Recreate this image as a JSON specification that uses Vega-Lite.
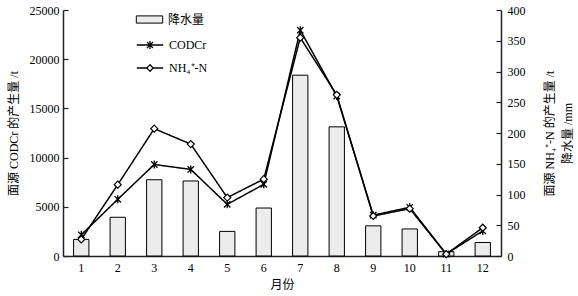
{
  "$schema": "https://vega.github.io/schema/vega-lite/v6.json",
  "width": 438,
  "height": 246,
  "autosize": {"type": "none"},
  "padding": {"left": 63, "top": 10, "right": 77, "bottom": 40},
  "background": "white",
  "config": {
    "view": {"stroke": null},
    "font": "Liberation Serif, Noto Sans CJK SC",
    "axis": {
      "labelFont": "Liberation Serif",
      "labelFontSize": 12,
      "labelColor": "black",
      "titleFont": "Liberation Serif, Noto Sans CJK SC",
      "titleFontSize": 12,
      "titleFontWeight": "normal",
      "titleColor": "black",
      "domainColor": "#222",
      "domainWidth": 1.5,
      "tickColor": "#222",
      "tickWidth": 1.2,
      "grid": false
    },
    "legend": {
      "labelFont": "Liberation Serif, Noto Sans CJK SC",
      "labelFontSize": 12,
      "labelColor": "black",
      "orient": "none",
      "padding": 0,
      "labelOffset": 6,
      "symbolSize": 576,
      "symbolStrokeColor": "black",
      "symbolStrokeWidth": 1.3,
      "symbolOpacity": 1
    }
  },
  "data": {
    "values": [
      {"month": 1, "precip": 27, "cod": 2150, "nh4": 27},
      {"month": 2, "precip": 63, "cod": 5760, "nh4": 116},
      {"month": 3, "precip": 124, "cod": 9300, "nh4": 207},
      {"month": 4, "precip": 122, "cod": 8800, "nh4": 182},
      {"month": 5, "precip": 40, "cod": 5250, "nh4": 95},
      {"month": 6, "precip": 78, "cod": 7280, "nh4": 125},
      {"month": 7, "precip": 294, "cod": 22950, "nh4": 355},
      {"month": 8, "precip": 210, "cod": 16250, "nh4": 262},
      {"month": 9, "precip": 49, "cod": 4150, "nh4": 65},
      {"month": 10, "precip": 44, "cod": 4950, "nh4": 77},
      {"month": 11, "precip": 7, "cod": 200, "nh4": 3},
      {"month": 12, "precip": 22, "cod": 2550, "nh4": 46}
    ]
  },
  "encoding": {
    "x": {
      "field": "month",
      "type": "ordinal",
      "scale": {"paddingInner": 0.58, "paddingOuter": 0.29},
      "axis": {"title": "月份", "labelAngle": 0, "ticks": false, "labelPadding": 6, "titlePadding": 6, "titleFont": "Noto Sans CJK SC"}
    }
  },
  "layer": [
    {
      "mark": {"type": "bar", "stroke": "black", "strokeWidth": 1},
      "encoding": {
        "y": {
          "field": "precip",
          "type": "quantitative",
          "scale": {"domain": [0, 400], "nice": false},
          "axis": {
            "orient": "right",
            "values": [0, 50, 100, 150, 200, 250, 300, 350, 400],
            "format": "d",
            "tickSize": -5,
            "labelPadding": 11,
            "title": ["面源 NH₄⁺-N 的产生量 /t", "降水量 /mm"],
            "titleAngle": -90,
            "titleLineHeight": 18,
            "titlePadding": 13
          }
        },
        "fill": {
          "datum": "降水量",
          "scale": {"domain": ["降水量"], "range": ["#ececec"]},
          "legend": {
            "title": null,
            "legendX": 74,
            "legendY": -3,
            "symbolType": "M-1.1,-0.3H1.1V0.3H-1.1Z",
            "symbolStrokeWidth": 1
          }
        }
      }
    },
    {
      "mark": {"type": "line", "color": "black", "strokeWidth": 1.5},
      "encoding": {
        "y": {
          "field": "cod",
          "type": "quantitative",
          "scale": {"domain": [0, 25000], "nice": false},
          "axis": {
            "orient": "left",
            "values": [0, 5000, 10000, 15000, 20000, 25000],
            "format": "d",
            "tickSize": -5,
            "labelPadding": 9,
            "title": "面源 CODCr 的产生量 /t",
            "titlePadding": 9
          }
        },
        "strokeDash": {
          "datum": "CODCr",
          "scale": {"domain": ["CODCr"], "range": [[1, 0]]},
          "legend": {
            "title": null,
            "legendX": 74,
            "legendY": 22,
            "symbolType": "M-1.1,0H1.1M-0.25,-0.25L0.25,0.25M-0.25,0.25L0.25,-0.25M0,-0.33V0.33",
            "symbolFillColor": "white"
          }
        }
      }
    },
    {
      "mark": {"type": "point", "shape": "M-0.8,-0.8L0.8,0.8M-0.8,0.8L0.8,-0.8M0,-1V1", "filled": false, "stroke": "black", "strokeWidth": 1.3, "size": 64, "opacity": 1},
      "encoding": {
        "y": {"field": "cod", "type": "quantitative", "scale": {"domain": [0, 25000], "nice": false}, "axis": null}
      }
    },
    {
      "mark": {"type": "line", "color": "black", "strokeWidth": 1.5},
      "encoding": {
        "y": {"field": "nh4", "type": "quantitative", "scale": {"domain": [0, 400], "nice": false}, "axis": null},
        "strokeDash": {
          "datum": "NH₄⁺-N",
          "scale": {"domain": ["NH₄⁺-N"], "range": [[1, 0]]},
          "legend": {
            "title": null,
            "legendX": 74,
            "legendY": 45,
            "symbolType": "M-1.1,0H-0.27M0.27,0H1.1M-0.27,0L0,-0.27L0.27,0L0,0.27Z",
            "symbolFillColor": "white"
          }
        }
      }
    },
    {
      "mark": {"type": "point", "shape": "diamond", "filled": true, "fill": "white", "fillOpacity": 1, "stroke": "black", "strokeWidth": 1.2, "size": 49, "opacity": 1},
      "encoding": {
        "y": {"field": "nh4", "type": "quantitative", "scale": {"domain": [0, 400], "nice": false}, "axis": null}
      }
    }
  ],
  "resolve": {"scale": {"y": "independent", "strokeDash": "independent", "fill": "independent"}}
}
